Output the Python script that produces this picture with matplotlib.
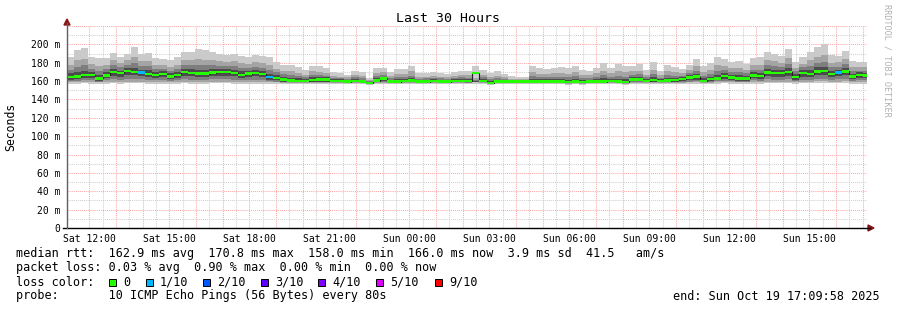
import matplotlib
matplotlib.use('Agg')
import matplotlib.pyplot as plt
from matplotlib.patches import Rectangle, Polygon
from matplotlib.lines import Line2D

# ---------------- data (ms) ----------------
median = [164.5,165.0,166.7,166.7,163.0,166.3,169.6,168.5,170.8,170.0,
          169.2,167.8,166.7,167.8,165.2,166.7,169.6,168.8,168.1,168.1,
          169.2,169.6,169.6,168.8,166.7,168.1,168.8,167.4,164.5,163.5,
          161.6,160.5,160.0,160.0,160.9,161.6,161.6,160.0,160.0,159.4,
          160.0,159.4,158.0,160.5,163.0,159.4,159.4,160.0,160.5,159.4,
          159.4,160.0,159.4,159.4,160.0,160.0,160.2,168.8,160.0,158.0,
          159.4,159.4,159.4,159.4,159.4,159.4,159.4,159.4,159.4,159.4,
          158.7,159.4,158.7,159.4,159.4,159.4,160.0,159.4,158.7,161.6,
          161.6,160.0,160.9,160.0,160.5,160.9,162.3,164.1,164.9,160.0,
          162.0,163.0,165.6,163.8,163.0,163.0,166.0,165.6,169.2,168.8,
          168.8,170.0,164.5,168.8,167.8,170.5,170.8,167.8,169.2,170.5,
          165.2,166.7,166.0]
ping_max = [186.6,194.0,195.7,186.6,184.8,184.8,191.0,186.6,190.0,196.7,
            189.5,191.0,184.8,183.7,182.6,185.9,192.0,192.0,194.6,193.5,
            192.0,189.5,188.4,190.0,187.7,186.6,188.4,187.7,186.0,180.4,
            178.0,177.5,175.0,172.0,176.8,176.0,174.0,170.0,168.5,166.7,
            171.0,169.6,163.8,174.6,174.6,170.0,172.8,172.8,176.8,168.5,
            169.0,170.0,169.0,167.4,170.0,171.0,171.0,176.5,172.0,169.0,
            170.7,167.4,165.5,165.0,165.0,176.4,174.0,173.3,174.6,175.7,
            174.6,176.4,172.0,171.0,174.6,179.3,174.0,178.3,176.8,176.8,
            178.3,172.0,180.4,170.7,178.0,175.7,172.8,178.0,183.7,176.8,
            179.3,186.6,183.7,180.4,181.9,178.6,184.8,185.9,192.0,190.0,
            187.3,194.6,181.0,185.9,192.0,197.5,200.0,188.4,187.7,193.2,
            181.5,181.0,181.0]
ping_9 = [178,182.5,184,178.5,176,177.5,182.5,179.5,182.5,186,
          181.5,181.5,177.5,177.5,175.5,178,183,182.5,184,183.5,
          183,181.5,181,181.5,179.5,179,180.5,179.5,177.5,173.5,
          171.5,170.5,169,167,170.5,170,169,166,165,164,
          166.5,165.5,161.5,169,170,166,167.5,167.5,170.5,165,
          165,166,165,164,166,166.5,166.5,163,167,164.5,
          166,164,162.5,162,162,169.5,168,167.5,168.5,169,
          168,169.5,166.5,166.5,168.5,171.5,168.5,170.5,169.5,170.5,
          171.5,167,172.5,166.5,171,170,168.5,172.5,176,170,
          172.5,177,176.5,174,174.5,172.5,177.5,178,183,181.5,
          180,185,174.5,179,182.5,186.5,188.5,180,180.5,184,
          175,175.5,175]
ping_8 = [172,175,177,173.5,170.5,173,177,175,177.5,179.5,
          176.5,176,173,173.5,171.5,173.5,177.5,177,177.5,177,
          177,176.5,176,176,174,174.5,175.5,174.5,172,169.5,
          167.5,166.5,165.5,164,166.5,166.5,166,163.5,163,162,
          164,163,160,165.5,167,163,164,164.5,166,162.5,
          163,163.5,163,162,163.5,164,163.5,161,164,162,
          163.5,162,161.5,160.5,160.5,165.5,164.5,164.5,164.5,165,
          164.5,165.5,163.5,163.5,164.5,166.5,165,166,165,167,
          167.5,164,167.5,163.5,166.5,166,166,169,171.5,166,
          168,171.5,172,169.5,169.5,168.5,172.5,172.5,177,176,
          175.5,178.5,170.5,175,176.5,180,181,175,175.5,178.5,
          171,171.5,171.5]
ping_7 = [168.5,170,171.5,170,167,169.5,173.5,171.5,174,174.5,
          172.5,172,170,170.5,168.5,170,173.5,173,172.5,172.5,
          173,173,173,172.5,170.5,171.5,172,171,168,166.5,
          164.5,163.5,163,162.5,164,164.5,164,162,162,161,
          162,161.5,159.5,163,165,161.5,162,162.5,163.5,161.5,
          161.5,162,161.5,161,162,162,162,160.5,162.5,160,
          161.5,161,160.5,160.5,160,162.5,162,162,162,162.5,
          161.5,162.5,161,161.5,162,163,162.5,162.5,162,164.5,
          164.5,162.5,164.5,162,163.5,163.5,164.5,166.5,168,163,
          165,167,169,167,166.5,166,169.5,169,173,172.5,
          172,174,167.5,172,172,175,175.5,171.5,172.5,174.5,
          168,169.5,169]
ping_4 = [161.5,162,163.5,163.5,160.5,163,166,165,167,166.5,
          166,164.5,163.5,164.5,162,163.5,166,165.5,165,165,
          166,166,166,165.5,163.5,165,165.5,164,161.5,
          161,159.5,159,159,159,159,159.5,159.5,159,159,
          158.5,159,158.5,157.5,159,160.5,158.5,158.5,159,159,
          158.5,158.5,159,158.5,158.5,159,159,158.5,
          159.5,159,157.5,158.5,158.5,158.5,158.5,158.5,158.5,158.5,
          158.5,158.5,158.5,158,158.5,158,158.5,158.5,158.5,159,
          158.5,158,160,160,159,159.5,159,159.5,159.5,
          160,161,161.5,159,160,161,162,161,160.5,160.5,
          163,162.5,165.5,165,165,166,161.5,165,164.5,167,
          167,164.5,165.5,167,162,163,163]
ping_3 = [160,160.5,161,161,159.5,161,162,161.5,162.5,162,
          162,161.5,161,161.5,160.5,161,162,161.5,161.5,161.5,
          162,162,162,161.5,161,161.5,161.5,161,160,
          159.5,158.5,158.5,158.5,158.5,158.5,158.5,158.5,158.5,158.5,
          158,158.5,158,157,158.5,159,158,158,158.5,158.5,
          158,158,158.5,158,158,158.5,158.5,158,
          159,158.5,157,158,158,158,158,158,158,158,
          158,158,158,157.5,158,157.5,158,158,158,158.5,
          158,157.5,159,159,158.5,158.5,158.5,158.5,159,
          159,159.5,160,158.5,159,160,160.5,160,159.5,159.5,
          161,160.5,162,161.5,161.5,162,160,161.5,161.5,162.5,
          162.5,161.5,162,162.5,160.5,161,161]
ping_2 = [158.5,159,159,159,158.5,159,159.5,159,159.5,159.5,
          159.5,159,159,159,158.5,159,159.5,159,159,159,
          159.5,159.5,159.5,159,159,159,159,159,158.5,
          158.5,158,158,158,158,158,158,158,158,158,
          157.5,158,157.5,156.5,158,158,157.5,157.5,158,158,
          157.5,157.5,158,157.5,157.5,158,158,157.5,
          158.5,158,156.5,157.5,157.5,157.5,157.5,157.5,157.5,157.5,
          157.5,157.5,157.5,157,157.5,157,157.5,157.5,157.5,158,
          157.5,157,158,158,158,158,158,158,158,
          158,158.5,158.5,157.5,158,158.5,159,158.5,158.5,158.5,
          159,159,159.5,159.5,159.5,159.5,158.5,159.5,159.5,160,
          160,159.5,159.5,160,159,159,159]
ping_min = [157,157,157.5,157,156.5,157,157.5,157,157.5,157.5,
            157.5,157,157,157,156.5,157,157.5,157,157,157,
            157.5,157.5,157.5,157,157,157,157,157,156.5,
            157,157,157,157,157,157,157,157,157,157,
            156.5,157,156.5,155.5,157,157,156.5,156.5,157,157,
            156.5,156.5,157,156.5,156.5,157,157,156.5,
            157,157,155.5,156.5,156.5,156.5,156.5,156.5,156.5,156.5,
            156.5,156.5,156.5,156,156.5,156,156.5,156.5,156.5,157,
            156.5,156,157,157,157,157,157,157,157,
            157,157,157,156.5,157,157,157.5,157,157,157,
            157,157,157.5,157.5,157.5,157.5,157,157.5,157.5,158,
            158,157.5,157.5,158,157,157,157]
lost_pings = [0]*113
for _i in (10, 28, 108):
    lost_pings[_i] = 1

loss_labels = ["0", "1/10", "2/10", "3/10", "4/10", "5/10", "9/10"]
loss_colors = ["#26ff00", "#00b8ff", "#0059ff", "#5e00ff", "#7e00ff", "#dd00ff", "#ff0000"]
loss_steps = [0, 1, 2, 3, 4, 5, 9]

x_tick_hours = [12, 15, 18, 21, 24, 27, 30, 33, 36, 39]
x_tick_labels = ["Sat 12:00", "Sat 15:00", "Sat 18:00", "Sat 21:00", "Sun 00:00",
                 "Sun 03:00", "Sun 06:00", "Sun 09:00", "Sun 12:00", "Sun 15:00"]
y_ticks = [0, 20, 40, 60, 80, 100, 120, 140, 160, 180, 200]
y_tick_labels = ["0"] + [f"{v} m" for v in y_ticks[1:]]

title = "Last 30 Hours"
legend_lines = [
    "median rtt:  162.9 ms avg  170.8 ms max  158.0 ms min  166.0 ms now  3.9 ms sd  41.5   am/s",
    "packet loss: 0.03 % avg  0.90 % max  0.00 % min  0.00 % now",
]
probe_line = "probe:       10 ICMP Echo Pings (56 Bytes) every 80s"
end_line = "end: Sun Oct 19 17:09:58 2025"

# ---------------- figure ----------------
W, H = 897, 310
MONO = "DejaVu Sans Mono"
plt.rcParams['font.family'] = [MONO, 'DejaVu Sans']

fig = plt.figure(figsize=(W / 100, H / 100), dpi=100)
fig.patch.set_facecolor("white")
L, R, T, B = 67, 867, 26, 228
ax = fig.add_axes([L / W, 1 - B / H, (R - L) / W, (B - T) / H])
ax.set_facecolor("white")

start_h = 11 + 9 / 60 + 58 / 3600
end_h = start_h + 30
bin_h = 16 / 60
n = len(median)
lefts = [start_h + k * bin_h for k in range(n)]

ax.set_xlim(start_h, end_h)
ax.set_ylim(0, 220)

# grid (under data)
dot = (0, (1, 1))
h = 12.0
while h < end_h:
    c = "#ffa8a8" if abs(h - round(h)) < 1e-6 else "#d0d0d0"
    ax.axvline(h, color=c, lw=0.75, ls=dot, zorder=0)
    h += 0.5
for v in range(10, 221, 10):
    c = "#ffa8a8" if v % 20 == 0 else "#d0d0d0"
    ax.axhline(v, color=c, lw=0.75, ls=dot, zorder=0)

# smoke layers
layers = [(ping_min, ping_max, "#cacaca"),
          (ping_2, ping_9, "#a4a4a4"),
          (ping_3, ping_8, "#7e7e7e"),
          (ping_4, ping_7, "#4c4c4c")]
for lo, hi, col in layers:
    ax.bar(lefts, [b - a for a, b in zip(lo, hi)], bottom=lo, width=bin_h,
           align='edge', color=col, linewidth=0, antialiased=False, zorder=2)

# median line
edges = lefts + [lefts[-1] + bin_h]
ax.step(edges, median + [median[-1]], where='post', color="#202020", lw=0.8, zorder=3)
med_cols = [loss_colors[loss_steps.index(l)] for l in lost_pings]
sw = 2.6
ax.bar(lefts, [sw] * n, bottom=[m - sw / 2 for m in median], width=bin_h,
       align='edge', color=med_cols, linewidth=0, antialiased=False, zorder=4)

# axes styling
for s in ax.spines.values():
    s.set_visible(False)
ax.set_xticks(x_tick_hours)
ax.set_xticklabels(x_tick_labels, fontsize=7, family=MONO)
ax.set_yticks(y_ticks)
ax.set_yticklabels(y_tick_labels, fontsize=7, family=MONO)
ax.tick_params(axis='x', length=0, pad=4.2)
ax.tick_params(axis='y', length=0, pad=5)

def fx(x):
    return x / W

def fy(y):
    return 1 - y / H

# axis lines + arrows
fig.add_artist(Line2D([fx(63), fx(870)], [fy(228), fy(228)], color="black", lw=1.0))
fig.add_artist(Line2D([fx(67), fx(67)], [fy(228), fy(23)], color="#606060", lw=1.0))
fig.add_artist(Polygon([(fx(64), fy(25)), (fx(70), fy(25)), (fx(67), fy(19))],
                       closed=True, color="#8b1515", transform=fig.transFigure))
fig.add_artist(Polygon([(fx(868), fy(225)), (fx(868), fy(231)), (fx(874), fy(228))],
                       closed=True, color="#8b1515", transform=fig.transFigure))

# titles & texts
fig.text(fx(448), fy(19), title, fontsize=9.5, family=MONO, ha='center', va='center')
fig.text(fx(887), fy(4), "RRDTOOL / TOBI OETIKER", fontsize=6.1, family=MONO,
         rotation=270, ha='center', va='top', color="#b0b0b0")
fig.text(fx(11), fy(127), "Seconds", fontsize=8.3, family=MONO, rotation=90,
         ha='center', va='center')

fs = 8.5
fig.text(fx(16), fy(254), legend_lines[0], fontsize=fs, family=MONO, va='center')
fig.text(fx(16), fy(268), legend_lines[1], fontsize=fs, family=MONO, va='center')
fig.text(fx(16), fy(282), "loss color:", fontsize=fs, family=MONO, va='center')
sq_x = [109, 146, 203, 261, 318, 376, 435]
for xs, lab, col in zip(sq_x, loss_labels, loss_colors):
    fig.add_artist(Rectangle((fx(xs), fy(286)), 7 / W, 7 / H, facecolor=col,
                             edgecolor="black", lw=0.7, transform=fig.transFigure))
    fig.text(fx(xs + 14), fy(282), lab, fontsize=fs, family=MONO, va='center')
fig.text(fx(16), fy(296), probe_line, fontsize=fs, family=MONO, va='center')
fig.text(fx(880), fy(296), end_line, fontsize=fs, family=MONO, va='center', ha='right')

fig.savefig("out.png", dpi=100, facecolor="white")
